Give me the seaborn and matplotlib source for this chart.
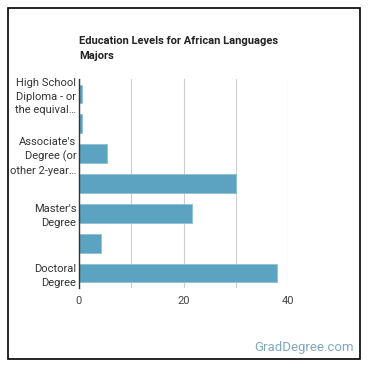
import pandas as pd
import matplotlib
matplotlib.use('Agg')
import matplotlib.pyplot as plt
import seaborn as sns
from matplotlib.patches import Rectangle

# values (percent of majors)
levels = [
    "High School Diploma",
    "Some College Courses",
    "Associate's Degree",
    "Bachelor's Degree",
    "Master's Degree",
    "Post-Master's Certificate",
    "Doctoral Degree",
]
percents = [0.5, 0.5, 5.4, 30.0, 21.7, 4.3, 37.9]
tick_labels = [
    "High School\nDiploma - or\nthe equival…", "",
    "Associate's\nDegree (or\nother 2-year…", "",
    "Master's\nDegree", "",
    "Doctoral\nDegree",
]

df = pd.DataFrame({'level': levels, 'percent': percents})

sns.set_theme(style='white')
plt.rcParams['font.family'] = ['Roboto', 'DejaVu Sans']

fig = plt.figure(figsize=(3.7, 3.7), dpi=100)
ax = fig.add_axes([79 / 370, 1 - 288 / 370, (288 - 79) / 370, (288 - 79) / 370])

sns.barplot(data=df, x='percent', y='level', color='#5ba3c0', width=0.63,
            edgecolor='#8cc0d6', linewidth=0.6, saturation=1, ax=ax)

ax.set_xlim(0, 40)
ax.set_xticks([0, 10, 20, 30, 40])
ax.set_xticklabels(['0', '', '20', '', '40'], fontsize=8, color='#444444')
ax.set_yticks(range(len(levels)))
ax.set_yticklabels(tick_labels, fontsize=8, color='#333333', linespacing=1.45)
ax.tick_params(axis='y', length=0, pad=2)
ax.tick_params(axis='x', length=0, pad=6)
ax.grid(axis='x', color='#cccccc', linewidth=0.8)
ax.set_axisbelow(True)
for side in ['top', 'right', 'bottom']:
    ax.spines[side].set_visible(False)
ax.spines['left'].set_color('#333333')
ax.spines['left'].set_linewidth(1)
ax.set_xlabel('')
ax.set_ylabel('')

fig.text(79 / 370, 1 - 36 / 370, 'Education Levels for African Languages\nMajors',
         fontsize=8, fontweight='bold', color='#222222', va='top', ha='left',
         linespacing=1.6)
fig.text(354 / 370, 1 - 347 / 370, 'GradDegree.com', fontsize=9.5,
         color='#7ea8c2', ha='right', va='center')

fig.add_artist(Rectangle((8 / 370, 1 - 359 / 370), 352 / 370, 351 / 370,
                         transform=fig.transFigure, fill=False,
                         edgecolor='black', linewidth=1.2))

fig.savefig('out.png', dpi=100)
